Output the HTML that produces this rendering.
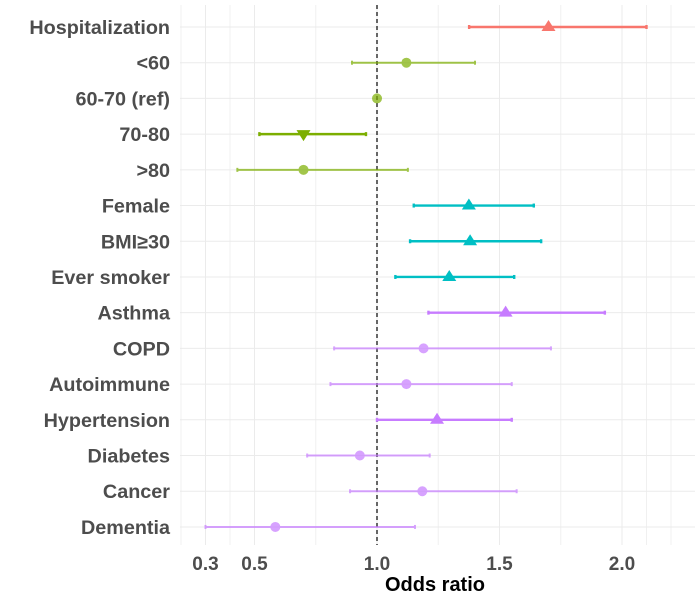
<!DOCTYPE html>
<html><head><meta charset="utf-8"><style>
body{margin:0;background:#fff;}
svg text{font-family:"Liberation Sans",sans-serif;font-weight:bold;}
</style></head><body>
<svg id="chart" width="700" height="600" xmlns="http://www.w3.org/2000/svg">
<g id="grid"></g>
<g id="marks"></g>
<g id="labels"></g>
<g id="ticks"></g>
<text x="435" y="591" text-anchor="middle" font-size="20" fill="#000">Odds ratio</text>
</svg>
<script>
const categories=["Hospitalization","<60","60-70 (ref)","70-80",">80","Female","BMI≥30","Ever smoker","Asthma","COPD","Autoimmune","Hypertension","Diabetes","Cancer","Dementia"];
const estimates=[1.70,1.12,1.0,0.70,0.70,1.375,1.38,1.295,1.525,1.19,1.12,1.245,0.93,1.185,0.585];
const lower=[1.376,0.898,null,0.52,0.43,1.15,1.135,1.075,1.21,0.825,0.81,1.0,0.715,0.89,0.30];
const upper=[2.10,1.40,null,0.955,1.126,1.64,1.67,1.56,1.93,1.71,1.55,1.55,1.215,1.57,1.155];
const groups=["hosp","age","age","age","age","demo","demo","demo","cond","cond","cond","cond","cond","cond","cond"];
const shapes=["up","circle","circle","down","circle","up","up","up","up","circle","circle","up","circle","circle","circle"];
const tickValues=[0.3,0.5,1.0,1.5,2.0];
const tickLabels=["0.3","0.5","1.0","1.5","2.0"];
const minorValues=[0.2,0.4,0.75,1.25,1.75,2.1,2.2];
const colors={hosp:"#F8766D",age:"#7CAE00",demo:"#00BFC4",cond:"#C77CFF"};
const NS="http://www.w3.org/2000/svg";
const xs=v=>377+(v-1)*245;
const ys=i=>27+i*35.71;
const P={l:180,r:695,t:5,b:545};
function mk(tag,attrs,parent){const e=document.createElementNS(NS,tag);for(const k in attrs)e.setAttribute(k,attrs[k]);parent.appendChild(e);return e;}
const grid=document.getElementById('grid'),marks=document.getElementById('marks'),labels=document.getElementById('labels'),ticks=document.getElementById('ticks');
minorValues.forEach(v=>{const l=mk('line',{x1:xs(v),x2:xs(v),y1:P.t,y2:P.b,stroke:'#f0f0f0','stroke-width':1},grid);

});
tickValues.forEach((v,i)=>{const l=mk('line',{x1:xs(v),x2:xs(v),y1:P.t,y2:P.b,stroke:'#ebebeb','stroke-width':1},grid);


const t=mk('text',{x:xs(v),y:570,'text-anchor':'middle','font-size':19,fill:'#4d4d4d'},ticks);t.textContent=tickLabels[i];

});
categories.forEach((c,i)=>{const l=mk('line',{x1:P.l,x2:P.r,y1:ys(i),y2:ys(i),stroke:'#ebebeb','stroke-width':1},grid);


const t=mk('text',{x:170,y:ys(i)+7,'text-anchor':'end','font-size':19.8,fill:'#4d4d4d'},labels);t.textContent=c;

});
const ref=mk('line',{x1:xs(1),x2:xs(1),y1:P.t,y2:P.b,stroke:'#000','stroke-width':1.2,'stroke-dasharray':'4,3'},marks);


categories.forEach((c,i)=>{
 const col=colors[groups[i]],sig=shapes[i]!=='circle',op=sig?1:0.7,y=ys(i);
 const g=mk('g',{opacity:op},marks);
 
 
 if(lower[i]!==null){const sw=sig?2.4:2;
  mk('line',{x1:xs(lower[i]),x2:xs(upper[i]),y1:y,y2:y,stroke:col,'stroke-width':sw},g);
  mk('line',{x1:xs(lower[i]),x2:xs(lower[i]),y1:y-2,y2:y+2,stroke:col,'stroke-width':sw},g);
  mk('line',{x1:xs(upper[i]),x2:xs(upper[i]),y1:y-2,y2:y+2,stroke:col,'stroke-width':sw},g);}
 const x=xs(estimates[i]);
 if(shapes[i]==='circle')mk('circle',{cx:x,cy:y,r:5,fill:col},g);
 else if(shapes[i]==='up')mk('polygon',{points:`${x-7},${y+4} ${x+7},${y+4} ${x},${y-7}`,fill:col},g);
 else mk('polygon',{points:`${x-7},${y-4} ${x+7},${y-4} ${x},${y+7}`,fill:col},g);
});
</script>
</body></html>
